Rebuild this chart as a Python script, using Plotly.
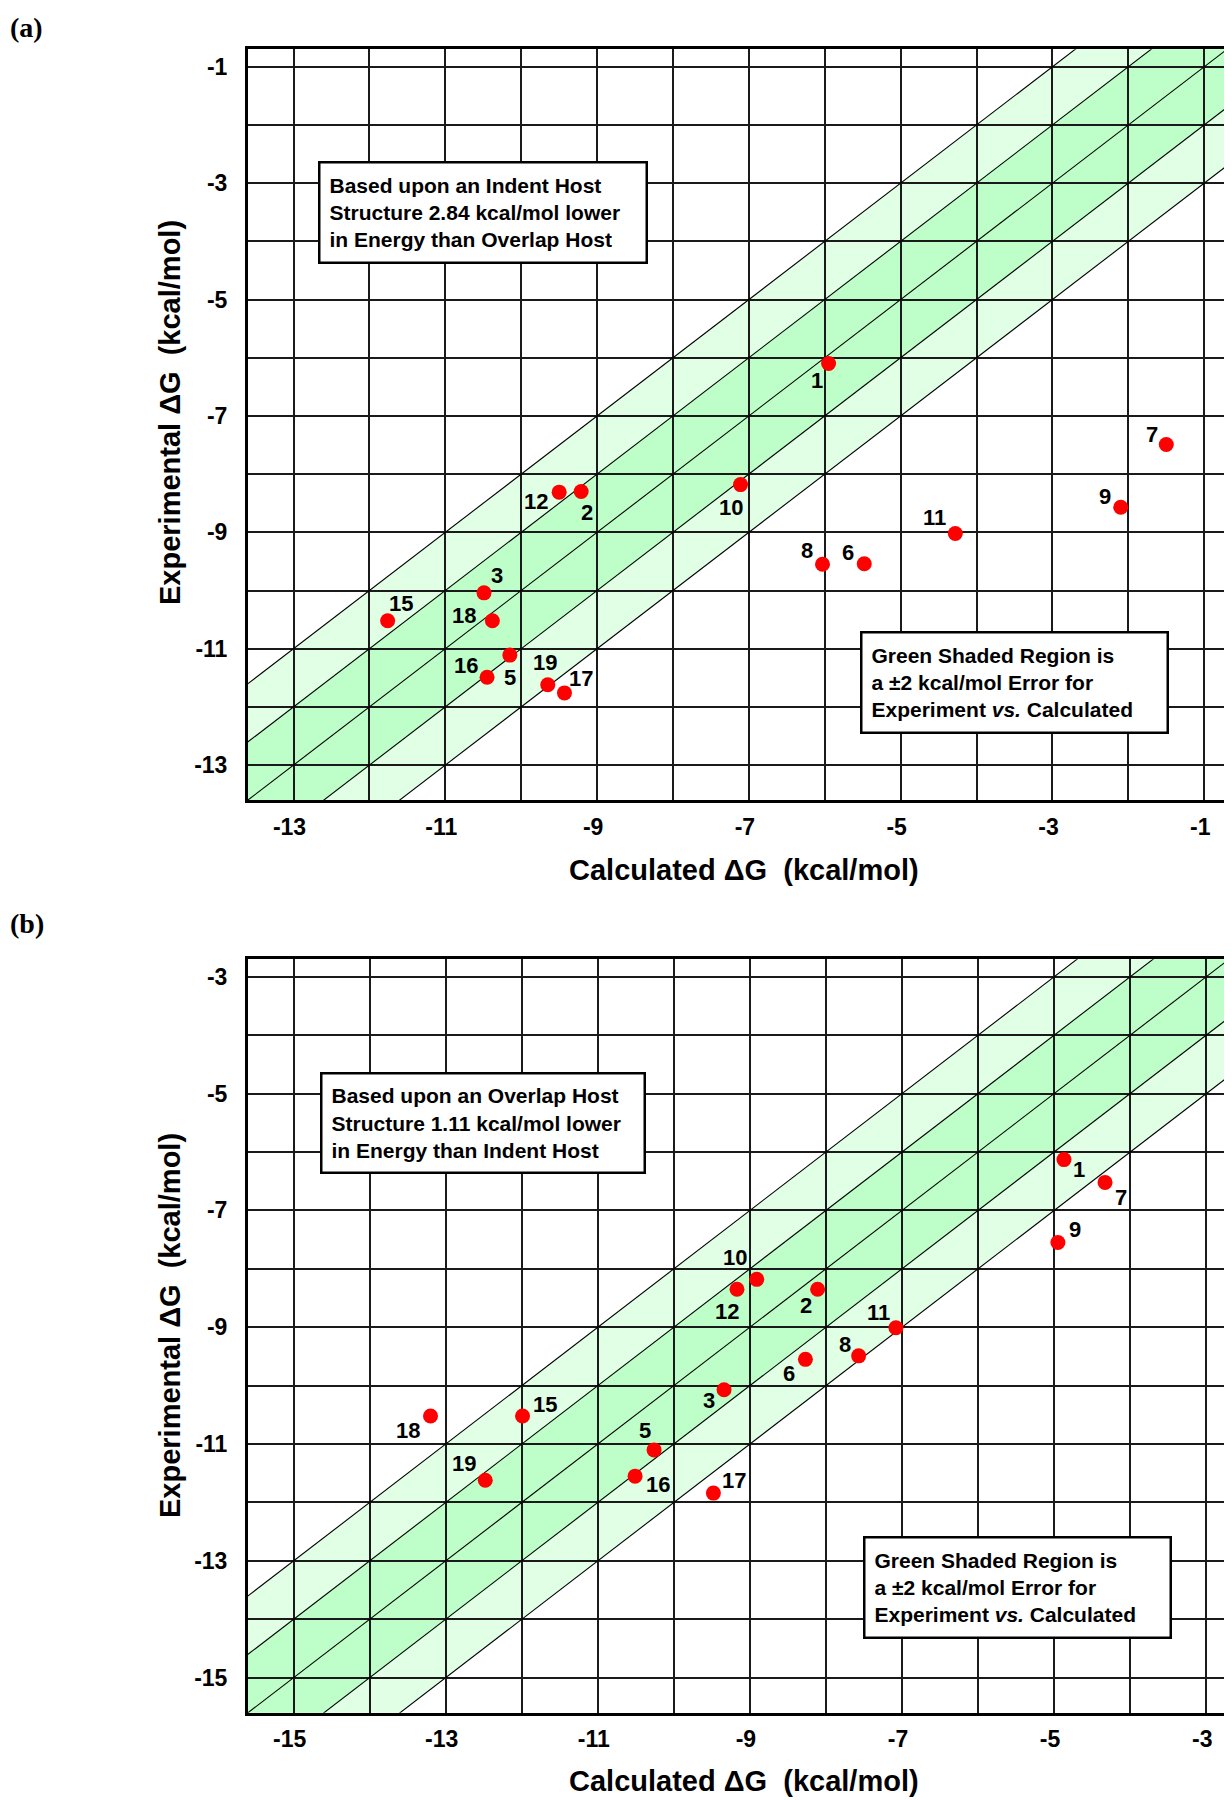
import math
import plotly.graph_objects as go

W, H = 1232, 1800
OFF = 8  # the page body has an 8px margin; positions below are page pixels

# ---------------- data ----------------
compound_ids = [1, 2, 3, 5, 6, 7, 8, 9, 10, 11, 12, 15, 16, 17, 18, 19]

# panel (a): Indent host
calc_a = [-5.95, -9.21, -10.49, -10.15, -5.48, -1.50, -6.03, -2.10, -7.11, -4.28, -9.50, -11.76, -10.45, -9.43, -10.38, -9.65]
exp_a = [-6.10, -8.30, -10.04, -11.11, -9.54, -7.49, -9.55, -8.57, -8.18, -9.02, -8.31, -10.52, -11.49, -11.76, -10.52, -11.62]

# panel (b): Overlap host
calc_b = [-4.87, -8.11, -9.34, -10.26, -8.27, -4.33, -7.57, -4.95, -8.91, -7.08, -9.17, -11.99, -10.51, -9.48, -13.20, -12.48]
exp_b = [-6.13, -8.35, -10.07, -11.10, -9.55, -6.52, -9.49, -7.55, -8.18, -9.01, -8.35, -10.52, -11.55, -11.84, -10.52, -11.62]

range_a = [-13.6, -0.7]
range_b = [-15.6, -2.7]
ticks_a = [-13, -11, -9, -7, -5, -3, -1]
ticks_b = [-15, -13, -11, -9, -7, -5, -3]

band_inner = 1   # kcal/mol
band_outer = 2   # kcal/mol

note_a = "Based upon an Indent Host<br>Structure 2.84 kcal/mol lower<br>in Energy than Overlap Host"
note_b = "Based upon an Overlap Host<br>Structure 1.11 kcal/mol lower<br>in Energy than Indent Host"
note_shade = "Green Shaded Region is<br>a ±2 kcal/mol Error for<br>Experiment <i>vs.</i> Calculated"
x_title = "Calculated ΔG\u00a0\u00a0(kcal/mol)"
y_title = "Experimental ΔG\u00a0\u00a0(kcal/mol)"

# ---------------- styles ----------------
# label offsets in pixels (dx right, dy down) for each compound label
label_off_a = {1: (-12, 17), 2: (6, 21), 3: (13, -17), 5: (0, 22), 6: (-16, -11), 7: (-14, -10),
               8: (-16, -14), 9: (-16, -11), 10: (-10, 23), 11: (-21, -16), 12: (-23, 9),
               15: (13, -17), 16: (-21, -12), 17: (17, -14), 18: (-28, -5), 19: (-3, -22)}
label_off_b = {1: (15, 10), 2: (-12, 16), 3: (-15, 11), 5: (-9, -19), 6: (-16, 14), 7: (16, 15),
               8: (-14, -11), 9: (17, -13), 10: (-22, -22), 11: (-17, -15), 12: (-10, 22),
               15: (22, -12), 16: (23, 8), 17: (21, -13), 18: (-23, 14), 19: (-21, -17)}

SANS = "Liberation Sans, Arial, sans-serif"
SERIF = "Liberation Serif, Times New Roman, serif"
DARK = "#BEFFC9"
LIGHT = "#E0FFE5"


def px_x(px):
    return (px - OFF) / W


def px_y(py):
    return 1 - (py - OFF) / H


fig = go.Figure()

panels = [
    dict(calc=calc_a, exp=exp_a, rng=range_a, ticks=ticks_a, xa="x", ya="y", xname="xaxis", yname="yaxis",
         xpx=(248, 1227), ypx=(49.3, 800), off=label_off_a,
         note=note_a, note_box=(317.5, 161, 647, 264), shade_box=(860, 630.7, 1168.5, 733.3),
         xt_y=870, yt_y=413, tag="(a)", tag_y=10),
    dict(calc=calc_b, exp=exp_b, rng=range_b, ticks=ticks_b, xa="x2", ya="y2", xname="xaxis2", yname="yaxis2",
         xpx=(248, 1229), ypx=(959.3, 1712.7), off=label_off_b,
         note=note_b, note_box=(320.3, 1071.7, 646.4, 1174), shade_box=(863.2, 1535.7, 1172.3, 1639),
         xt_y=1781, yt_y=1326, tag="(b)", tag_y=906),
]

shapes = []
annotations = []
layout_axes = {}

for p in panels:
    lo, hi = p["rng"]
    L, R = lo - 3, hi + 3
    # bands (light outer then dark inner)
    for off, col in [(band_outer, LIGHT), (band_inner, DARK)]:
        path = (f"M {L},{L - off} L {R},{R - off} L {R},{R + off} L {L},{L + off} Z")
        shapes.append(dict(type="path", path=path, xref=p["xa"], yref=p["ya"],
                           fillcolor=col, line=dict(width=0), layer="below"))
    # diagonal lines
    for k in [-band_outer, -band_inner, 0, band_inner, band_outer]:
        fig.add_trace(go.Scatter(x=[L, R], y=[L + k, R + k], mode="lines",
                                 line=dict(color="black", width=1.1),
                                 xaxis=p["xa"], yaxis=p["ya"], hoverinfo="skip"))
    # points
    fig.add_trace(go.Scatter(x=p["calc"], y=p["exp"], mode="markers",
                             marker=dict(color="#FF0000", size=15, line=dict(width=0)),
                             xaxis=p["xa"], yaxis=p["ya"]))
    # point labels
    for cid, cx, ey in zip(compound_ids, p["calc"], p["exp"]):
        dx, dy = p["off"][cid]
        annotations.append(dict(x=cx, y=ey, xref=p["xa"], yref=p["ya"], text=str(cid),
                                showarrow=False, xshift=dx, yshift=-dy,
                                font=dict(family=SANS, size=22, color="black", weight="bold")))
    # axes
    grid_vals = list(range(math.ceil(lo), math.floor(hi) + 1))
    ttext = [str(v) if v in p["ticks"] else "" for v in grid_vals]
    common = dict(range=p["rng"], tickvals=grid_vals, ticktext=ttext, showgrid=True,
                  gridcolor="#1a1a1a", gridwidth=1.6, showline=True, linecolor="black",
                  linewidth=3, mirror=True, ticks="", zeroline=False, fixedrange=True,
                  automargin=False,
                  tickfont=dict(family=SANS, size=23, color="black", weight="bold"))
    layout_axes[p["xname"]] = dict(common, domain=[px_x(p["xpx"][0]), px_x(p["xpx"][1])],
                                   anchor=p["ya"], ticklabelstandoff=4, ticklabelshift=-4)
    layout_axes[p["yname"]] = dict(common, domain=[px_y(p["ypx"][1]), px_y(p["ypx"][0])],
                                   anchor=p["xa"], ticklabelstandoff=13)
    # note boxes
    for text, (x0, y0, x1, y1) in [(p["note"], p["note_box"]), (note_shade, p["shade_box"])]:
        annotations.append(dict(x=px_x(x0), y=px_y(y0), xref="paper", yref="paper",
                                xanchor="left", yanchor="top", text=text, showarrow=False,
                                align="left", valign="middle",
                                width=(x1 - x0) - 2 * 9 - 5, height=(y1 - y0) - 2 * 9 - 5,
                                bgcolor="white", bordercolor="black", borderwidth=2.5, borderpad=9,
                                font=dict(family=SANS, size=21, color="black", weight="bold")))
    # axis titles
    annotations.append(dict(x=px_x(744), y=px_y(p["xt_y"]), xref="paper", yref="paper",
                            text=x_title, showarrow=False, xanchor="center", yanchor="middle",
                            font=dict(family=SANS, size=29, color="black", weight="bold")))
    annotations.append(dict(x=px_x(170), y=px_y(p["yt_y"]), xref="paper", yref="paper",
                            text=y_title, showarrow=False, xanchor="center", yanchor="middle",
                            textangle=-90,
                            font=dict(family=SANS, size=29, color="black", weight="bold")))
    # panel tag
    annotations.append(dict(x=0, y=px_y(p["tag_y"]), xref="paper", yref="paper",
                            text=p["tag"], showarrow=False, xanchor="left", yanchor="top",
                            font=dict(family=SERIF, size=28, color="black", weight="bold")))

fig.update_layout(width=W, height=H, autosize=False, margin=dict(l=0, r=0, t=0, b=0, pad=0),
                  plot_bgcolor="white", paper_bgcolor="white", showlegend=False,
                  shapes=shapes, annotations=annotations, **layout_axes)

fig.write_html("out.html")
